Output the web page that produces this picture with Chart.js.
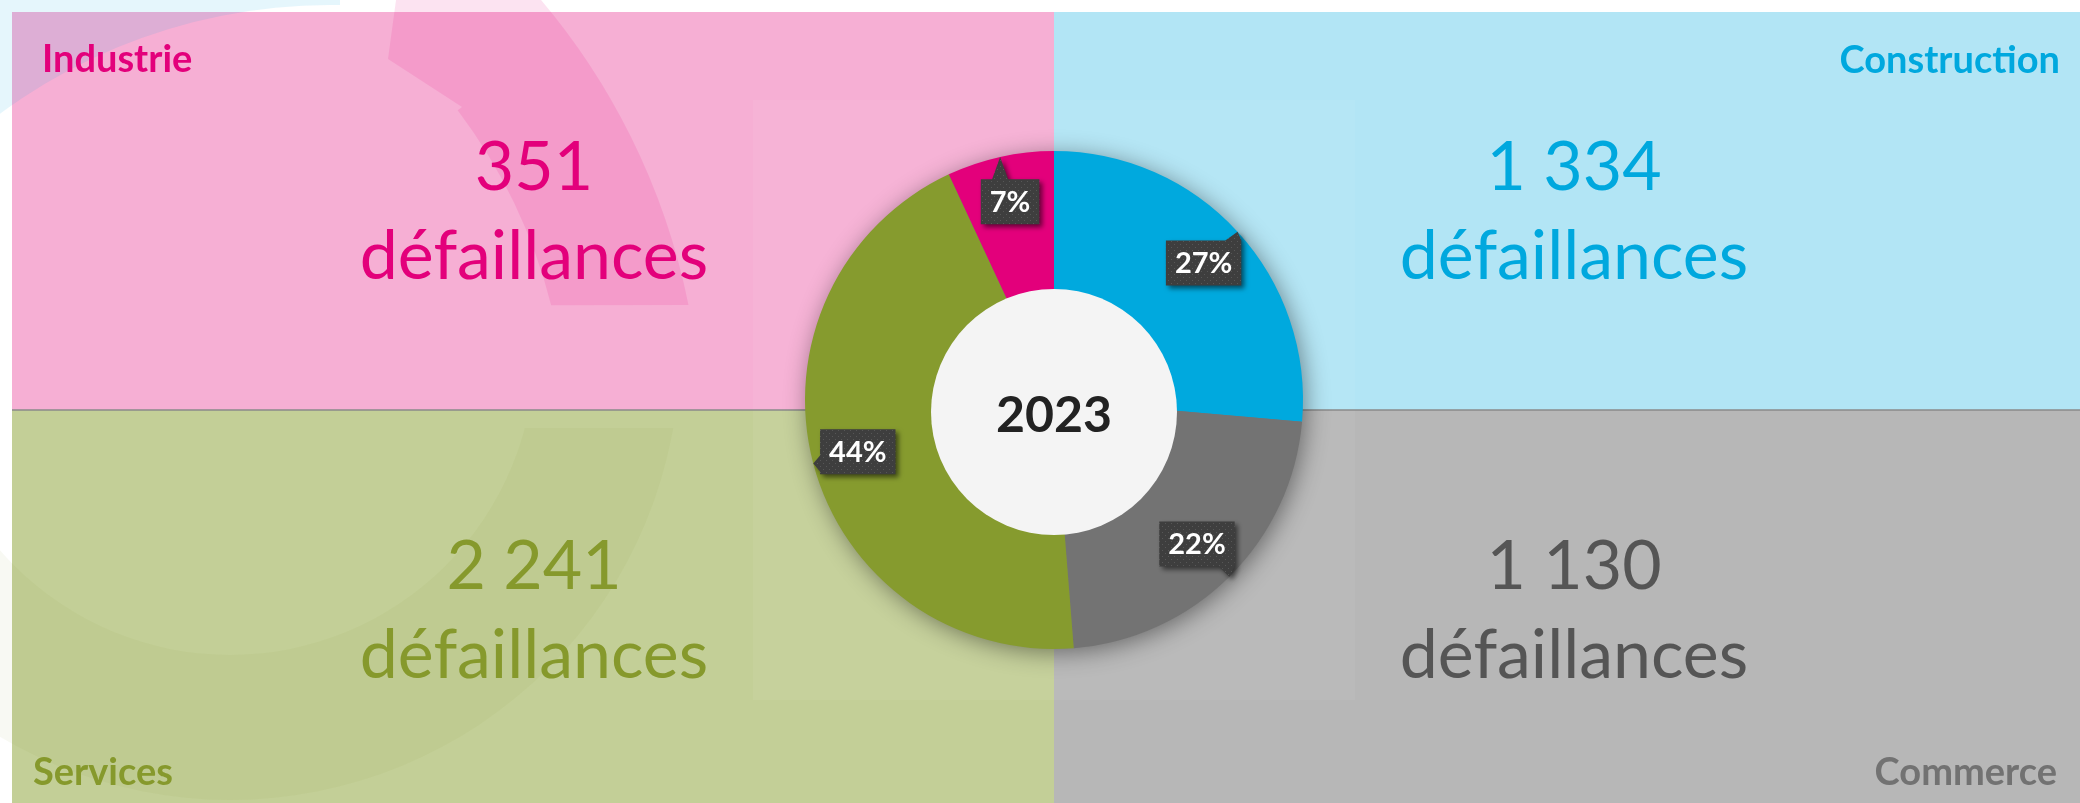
<!DOCTYPE html>
<html lang="fr">
<head>
<meta charset="utf-8">
<title>Défaillances 2023 par secteur</title>
<script src="https://cdn.jsdelivr.net/npm/chart.js@4"></script>
<style>
  html, body { margin: 0; padding: 0; background: #fff; }
  canvas { display: block; }
</style>
</head>
<body>
<canvas id="chart" width="2080" height="803"></canvas>
<script>
// Data (clockwise from the top of the ring)
const sectors = ['Construction', 'Commerce', 'Services', 'Industrie'];
const failures = [1334, 1130, 2241, 351];
const shareLabels = ['27%', '22%', '44%', '7%'];
const year = '2023';
const unitLabel = 'défaillances';

// Styling per sector, same order as the data
const sliceColors = ['#00a9de', '#737373', '#869b2e', '#e3007b'];
const panelColors = ['#b2e5f5', '#b7b7b7', '#c3cf97', '#f6afd4'];
const textColors = ['#00a8de', '#555555', '#86992c', '#e3007b'];
const nameColors = ['#00a8de', '#727272', '#86992c', '#e3007b'];

const W = 2080, H = 803;
const LEFT = 12, TOP = 12, MIDX = 1054, MIDY = 410;
const FONT = 'Lato, "Open Sans", sans-serif';

// where each sector's panel and texts sit: [panel x, y, w, h, text centre x, number baseline, name x, name baseline, name align]
const panels = [
  [MIDX, TOP, W - MIDX, MIDY - TOP, 1574, 190, 2060, 73, 'right'],
  [MIDX, MIDY, W - MIDX, H - MIDY, 1574, 589, 2057, 785, 'right'],
  [LEFT, MIDY, MIDX - LEFT, H - MIDY, 534, 589, 33, 785, 'left'],
  [LEFT, TOP, MIDX - LEFT, MIDY - TOP, 534, 190, 42, 72, 'left']
];

function formatNumber(n) {
  return String(n).replace(/\B(?=(\d{3})+(?!\d))/g, ' ');
}

const backdrop = {
  id: 'backdrop',
  beforeDraw(chart) {
    const ctx = chart.ctx;
    ctx.save();
    ctx.fillStyle = '#fff';
    ctx.fillRect(0, 0, W, H);

    panels.forEach((p, i) => {
      ctx.fillStyle = panelColors[i];
      ctx.fillRect(p[0], p[1], p[2], p[3]);
    });

    // light blue tint in the top-left corner, outside a big circle
    ctx.save();
    ctx.beginPath();
    ctx.rect(0, 0, 340, 140);
    ctx.clip();
    ctx.beginPath();
    ctx.rect(0, 0, 340, 140);
    ctx.arc(330, 560, 555, 0, Math.PI * 2);
    ctx.fillStyle = 'rgba(0,168,222,0.10)';
    ctx.fill('evenodd');
    ctx.restore();

    // darker pink arrow-like band
    ctx.beginPath();
    ctx.moveTo(396, 0);
    ctx.lineTo(388, 59);
    ctx.lineTo(462, 107);
    ctx.arc(20, 440, 548, -0.6458, -0.2486, false);
    ctx.lineTo(688, 305);
    ctx.arc(20, 440, 682, -0.1993, -0.7237, true);
    ctx.closePath();
    ctx.fillStyle = 'rgba(228,0,124,0.11)';
    ctx.fill();

    // green ring in the bottom-left panel
    ctx.save();
    ctx.beginPath();
    ctx.rect(0, 428, MIDX, H - 428);
    ctx.clip();
    ctx.beginPath();
    ctx.arc(230, 350, 450, 0, Math.PI * 2);
    ctx.arc(230, 350, 305, 0, Math.PI * 2);
    ctx.fillStyle = 'rgba(134,155,46,0.06)';
    ctx.fill('evenodd');
    ctx.restore();

    // faint chart frame
    ctx.fillStyle = 'rgba(255,255,255,0.05)';
    ctx.fillRect(753, 100, 602, 600);

    // divider
    ctx.strokeStyle = '#8a8a8a';
    ctx.lineWidth = 1.5;
    ctx.beginPath();
    ctx.moveTo(LEFT, MIDY);
    ctx.lineTo(W, MIDY);
    ctx.stroke();

    // texts
    panels.forEach((p, i) => {
      ctx.fillStyle = textColors[i];
      ctx.textAlign = 'center';
      ctx.textBaseline = 'alphabetic';
      ctx.font = '68px ' + FONT;
      ctx.fillText(formatNumber(failures[i]), p[4], p[5]);
      ctx.fillText(unitLabel, p[4], p[5] + 89);

      ctx.fillStyle = nameColors[i];
      ctx.font = 'bold 38px ' + FONT;
      ctx.textAlign = p[8];
      ctx.fillText(sectors[i], p[6], p[7]);
    });
    ctx.restore();
  }
};

const ringShadow = {
  id: 'ringShadow',
  beforeDatasetsDraw(chart) {
    const arc = chart.getDatasetMeta(0).data[0];
    if (!arc) return;
    const { x, y, outerRadius } = arc.getProps(['x', 'y', 'outerRadius'], true);
    const ctx = chart.ctx;
    ctx.save();
    ctx.shadowColor = 'rgba(0,0,0,0.45)';
    ctx.shadowBlur = 24;
    ctx.shadowOffsetX = 3;
    ctx.shadowOffsetY = 4;
    ctx.fillStyle = '#777';
    ctx.beginPath();
    ctx.arc(x, y, outerRadius - 1, 0, Math.PI * 2);
    ctx.fill();
    ctx.restore();
  }
};

function makeDots(ctx) {
  const c = document.createElement('canvas');
  c.width = 6; c.height = 6;
  const p = c.getContext('2d');
  p.fillStyle = '#3e3e3e';
  p.fillRect(0, 0, 6, 6);
  p.fillStyle = '#575757';
  p.fillRect(1, 1, 1, 1);
  p.fillRect(4, 4, 1, 1);
  return ctx.createPattern(c, 'repeat');
}

const centreAndCallouts = {
  id: 'centreAndCallouts',
  afterDatasetsDraw(chart) {
    const ctx = chart.ctx;
    const meta = chart.getDatasetMeta(0);
    const first = meta.data[0].getProps(['x', 'y', 'outerRadius'], true);
    const cx = first.x, cy = first.y, R = first.outerRadius;

    // inner disk (sits a little low, as in the source)
    ctx.save();
    ctx.fillStyle = '#f4f4f4';
    ctx.beginPath();
    ctx.arc(cx, cy + 12, 123, 0, Math.PI * 2);
    ctx.fill();
    ctx.fillStyle = '#222';
    ctx.font = 'bold 50px ' + FONT;
    ctx.textAlign = 'center';
    ctx.textBaseline = 'alphabetic';
    ctx.fillText(year, cx, cy + 32);
    ctx.restore();

    // callouts
    const dots = makeDots(ctx);
    meta.data.forEach((arc, i) => {
      const a = arc.getProps(['startAngle', 'endAngle'], true);
      const mid = (a.startAngle + a.endAngle) / 2;
      const bx = cx + Math.cos(mid) * R * 0.815;
      const by = cy + Math.sin(mid) * R * 0.815;
      const tx = cx + Math.cos(mid) * R;
      const ty = cy + Math.sin(mid) * R;

      ctx.save();
      ctx.font = 'bold 29px ' + FONT;
      const w = ctx.measureText(shareLabels[i]).width + 18;
      const h = 45;
      const x0 = bx - w / 2, y0 = by - h / 2, x1 = x0 + w, y1 = y0 + h;
      const clamp = (v, lo, hi) => Math.max(lo, Math.min(hi, v));

      ctx.beginPath();
      ctx.moveTo(x0, y0);
      if (ty < y0) {
        const s = clamp(tx - 8, x0, x1 - 16);
        ctx.lineTo(s, y0); ctx.lineTo(tx, ty); ctx.lineTo(s + 16, y0);
      }
      ctx.lineTo(x1, y0);
      if (ty >= y0 && ty <= y1 && tx > x1) {
        const s = clamp(ty - 8, y0, y1 - 16);
        ctx.lineTo(x1, s); ctx.lineTo(tx, ty); ctx.lineTo(x1, s + 16);
      }
      ctx.lineTo(x1, y1);
      if (ty > y1) {
        const s = clamp(tx + 8, x0 + 16, x1);
        ctx.lineTo(s, y1); ctx.lineTo(tx, ty); ctx.lineTo(s - 16, y1);
      }
      ctx.lineTo(x0, y1);
      if (ty >= y0 && ty <= y1 && tx < x0) {
        const s = clamp(ty + 8, y0 + 16, y1);
        ctx.lineTo(x0, s); ctx.lineTo(tx, ty); ctx.lineTo(x0, s - 16);
      }
      ctx.closePath();

      ctx.shadowColor = 'rgba(0,0,0,0.55)';
      ctx.shadowBlur = 5;
      ctx.shadowOffsetX = 3;
      ctx.shadowOffsetY = 3;
      ctx.fillStyle = dots;
      ctx.fill();
      ctx.shadowColor = 'transparent';

      ctx.fillStyle = '#fff';
      ctx.textAlign = 'center';
      ctx.textBaseline = 'middle';
      ctx.fillText(shareLabels[i], bx, by + 1);
      ctx.restore();
    });
  }
};

const ctx = document.getElementById('chart').getContext('2d');
const chart = new Chart(ctx, {
  type: 'doughnut',
  data: {
    labels: sectors,
    datasets: [{
      data: failures,
      backgroundColor: sliceColors,
      borderWidth: 0
    }]
  },
  options: {
    responsive: false,
    devicePixelRatio: 1,
    animation: false,
    cutout: '40%',
    layout: { padding: { left: 805, right: 777, top: 151, bottom: 154 } },
    plugins: {
      legend: { display: false },
      tooltip: { enabled: false }
    }
  },
  plugins: [backdrop, ringShadow, centreAndCallouts]
});
</script>
</body>
</html>
